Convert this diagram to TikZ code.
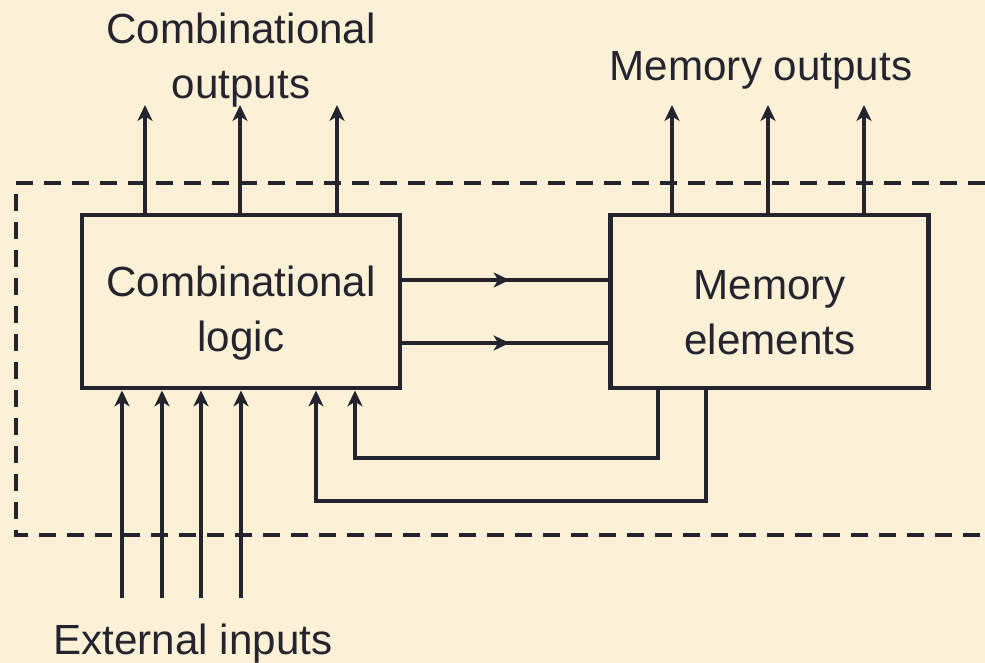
\documentclass[tikz,border=0pt]{standalone}
\usepackage{fontspec}
\setmainfont{Liberation Sans}
\usepackage{tikz}
\usetikzlibrary{positioning}
\usetikzlibrary{arrows.meta}
\usetikzlibrary{decorations.markings}
\definecolor{paper}{RGB}{252,241,214}
\definecolor{ink}{RGB}{36,36,46}
\tikzset{block/.style={draw=ink,line width=2.8pt,minimum width=6.36cm,minimum height=3.46cm,inner sep=0pt},
	wire/.style={draw=ink,line width=2.4pt},
	caption/.style={align=center,text=ink,font=\fontsize{24}{31.5}\selectfont},
	midarrow/.style={postaction={decorate},decoration={markings,mark=at position 0.52 with {\arrow{>}}}},}

\begin{document}
\begin{tikzpicture}[x=0.02cm, y=-0.02cm, >={Stealth[length=9pt,width=8.5pt,inset=2.5pt]}]
	\fill[paper] (0,0) rectangle (985,663);
	\useasboundingbox (0,0) rectangle (985,663);

	% dashed boundary, open to the right
	\draw[ink, line width=2pt, dash pattern=on 0.34cm off 0.22cm] (985,183) -- (16,183) -- (16,535) -- (985,535);

	\node[block, label={[caption,yshift=-0.23cm]center:Combinational\\logic}] (comb) at (241,301.5) {};
	\node[block, label={[caption,yshift=-0.23cm]center:Memory\\elements}] (mem) [right = 4.12cm of comb] {};

	% outputs
	\foreach \x in {145,240,337}
	    \draw[wire,->] (comb.north -| \x,0) -- (\x,105);
	\foreach \x in {672,768,864}
	    \draw[wire,->] (mem.north -| \x,0) -- (\x,105);

	% comb to memory
	\path[wire,midarrow] (comb.east |- 0,280) -- (mem.west |- 0,280);
	\path[wire,midarrow] (comb.east |- 0,343) -- (mem.west |- 0,343);

	% feedback
	\draw[wire,->] (mem.south -| 658,0) |- (355,458) -- (comb.south -| 355,0);
	\draw[wire,->] (mem.south -| 706,0) |- (316,501) -- (comb.south -| 316,0);

	% external inputs
	\foreach \x [count=\i] in {122,162,201,241} {
	    \coordinate (in\i) at (\x,598);
	    \draw[wire,->] (in\i) -- (comb.south -| in\i);
	}

	\node[caption] (combout) at (241,60) {Combinational\\outputs};
	\node[caption] (memout) at (761,70) {Memory outputs};
	\node[caption] (extin) at (193,644) {External inputs};
\end{tikzpicture}
\end{document}
